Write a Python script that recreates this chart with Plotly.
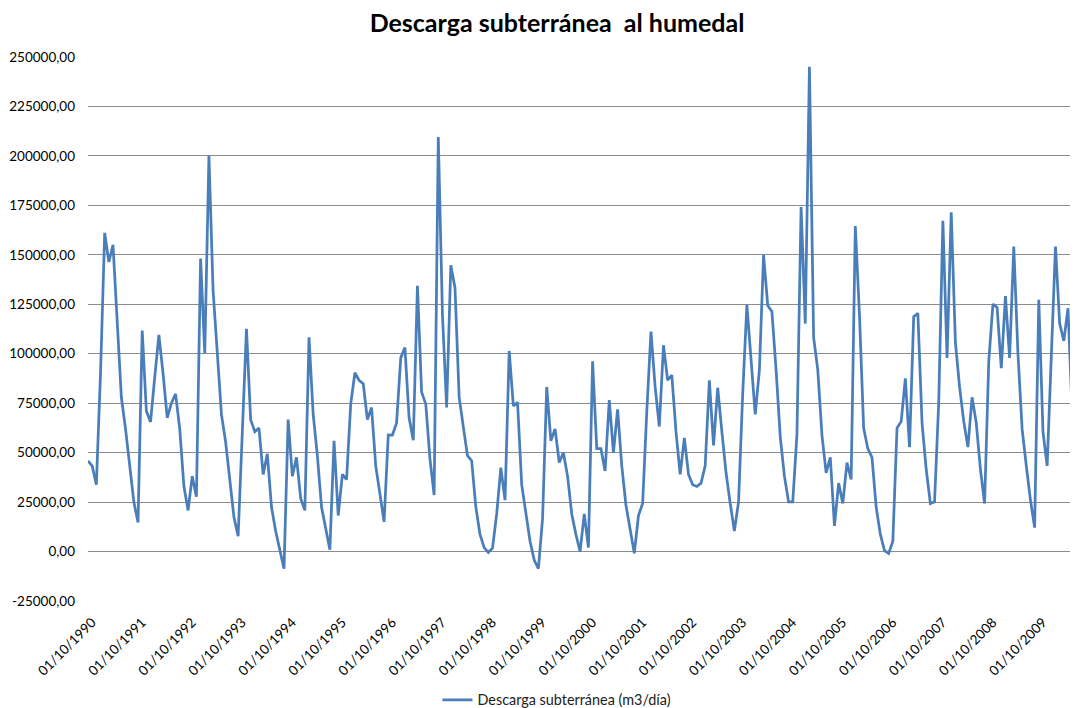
import plotly.graph_objects as go

# Monthly categories: 01/10/1990 onwards
months = []
for k in range(239):
    m = (10 - 1 + k) % 12 + 1
    y = 1990 + (10 - 1 + k) // 12
    months.append(f"01/{m:02d}/{y}")

descarga = [
    45900, 43300, 33800, 90000, 161100, 146400, 155000, 118000, 78000, 62000, 43300, 25000,
    14700, 111700, 71000, 65500, 88000, 109500, 90000, 67600, 75000, 79700, 62000, 33000,
    20800, 38100, 27700, 148100, 100100, 200100, 131700, 102200, 69300, 55400, 36400, 17300,
    7800, 62000, 112600, 66700, 60600, 62400, 39000, 49400, 22500, 10400, 1500, -8700,
    66700, 38100, 47600, 26900, 20800, 108300, 69300, 48500, 22500, 12100, 900, 56000,
    18200, 39000, 36400, 74500, 90400, 86600, 84900, 66700, 72800, 43300, 28600, 15000,
    59000, 58900, 65000, 97900, 103100, 67600, 56300, 134300, 80600, 74500, 46800, 28600,
    209600, 119500, 72800, 144700, 133400, 78000, 63000, 48500, 45900, 22500, 8700, 2000,
    -500, 1700, 19000, 42400, 26000, 101400, 73600, 75400, 33800, 18200, 5200, -4300,
    -8700, 16500, 83200, 56000, 62000, 45000, 50000, 38100, 19000, 8700, 0, 19000,
    2000, 96200, 52000, 52000, 40700, 76600, 50000, 71900, 43300, 23400, 10400, -900,
    18200, 24300, 71000, 111200, 83200, 63200, 104300, 86600, 89200, 60600, 39000, 57500,
    39000, 33800, 32900, 34600, 43300, 86600, 53700, 82800, 60600, 39800, 24300, 10400,
    25100, 80000, 124700, 97000, 69300, 91800, 149900, 124400, 121300, 91800, 58000, 38100,
    25100, 25100, 58900, 174100, 115200, 245100, 108300, 91800, 58900, 39800, 47600, 13000,
    34600, 24300, 45000, 36400, 164600, 119500, 62400, 52000, 47600, 22500, 8700, 500,
    -900, 5200, 62400, 65800, 87500, 52800, 118700, 120400, 65000, 41600, 24300, 25100,
    75400, 167200, 97900, 171500, 105700, 83200, 65800, 52800, 78000, 65000, 41600, 24300,
    96200, 125100, 123400, 92700, 129100, 97900, 154200, 100000, 62000, 43300, 26000, 12100,
    127300, 60600, 43300, 98800, 154200, 115200, 106500, 123000, 70000, 40000, 25000,
]

y_tick_vals = [-25000, 0, 25000, 50000, 75000, 100000, 125000, 150000, 175000, 200000, 225000, 250000]
y_tick_text = ["-25000,00", "0,00", "25000,00", "50000,00", "75000,00", "100000,00", "125000,00",
               "150000,00", "175000,00", "200000,00", "225000,00", "250000,00"]
x_tick_vals = months[::12]
x_tick_text = months[::12]

FONT = "Lato"

fig = go.Figure()
fig.add_trace(go.Scatter(
    x=months, y=descarga, mode="lines",
    name="Descarga subterránea (m3/día)",
    line=dict(color="#4A7EBB", width=2.75),
))

fig.update_layout(
    width=1070, height=700,
    margin=dict(l=80, r=0, t=49, b=107, autoexpand=False),
    paper_bgcolor="white", plot_bgcolor="white",
    title=dict(text="<b>Descarga subterránea\u00a0 al humedal</b>",
               font=dict(family=FONT, size=25, color="#000000"),
               x=549 / 1070, xref="container", xanchor="center",
               y=1 - 15 / 700, yref="container", yanchor="middle"),
    showlegend=True,
    legend=dict(orientation="h", x=0.4737, xanchor="center", y=-0.182, yanchor="middle",
                font=dict(family=FONT, size=14.4, color="#222222"),
                bgcolor="rgba(0,0,0,0)"),
    xaxis=dict(type="category", range=[0, 237.4],
               tickmode="array", tickvals=x_tick_vals, ticktext=x_tick_text,
               tickangle=-45, showgrid=False, zeroline=False, showline=False, ticks="",
               tickfont=dict(family=FONT, size=13.5, color="#000000"),
               ticklabelstandoff=10, ticklabelshift=4),
    yaxis=dict(range=[-25000, 250000], tickmode="array",
               tickvals=y_tick_vals, ticktext=y_tick_text,
               showgrid=True, gridcolor="#8C8C8C", gridwidth=1,
               zeroline=False, showline=False, ticks="",
               tickfont=dict(family=FONT, size=13.5, color="#000000"),
               ticklabelstandoff=12),
)

fig.write_html("out.html")
